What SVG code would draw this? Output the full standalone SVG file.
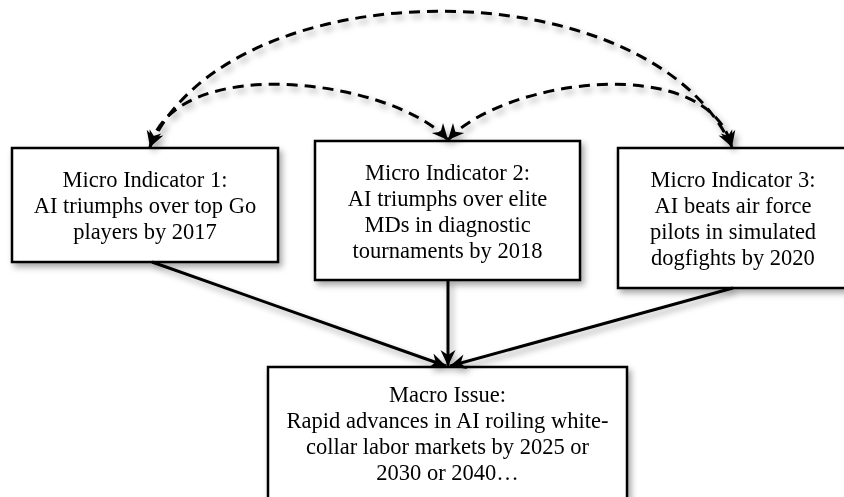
<svg xmlns="http://www.w3.org/2000/svg" width="844" height="497" viewBox="0 0 844 497">
  <defs>
    <filter id="sh" x="-10%" y="-10%" width="125%" height="130%">
      <feDropShadow dx="3" dy="4" stdDeviation="3" flood-color="#000" flood-opacity="0.35"/>
    </filter>
    <marker id="ah" viewBox="-18 -10 20 20" refX="0" refY="0" markerWidth="20" markerHeight="20" markerUnits="userSpaceOnUse" orient="auto-start-reverse">
      <path d="M0,0 L-16,-7.5 L-11,0 L-16,7.5 Z" fill="#000" stroke="none"/>
    </marker>
    <style>
      .box { fill: #fff; stroke: #000; stroke-width: 2.5; }
      .lbl { font-family: "Liberation Serif", "Times New Roman", serif; font-size: 22.5px; fill: #000; text-anchor: middle; }
      .dash { fill: none; stroke: #000; stroke-width: 3; stroke-dasharray: 11 7; marker-start: url(#ah); marker-end: url(#ah); }
      .solid { fill: none; stroke: #000; stroke-width: 3; marker-end: url(#ah); }
    </style>
  </defs>
  <rect width="844" height="497" fill="#fff"/>

  <g id="node-micro1" filter="url(#sh)">
    <rect class="box" x="12" y="148" width="266" height="114"/>
    <text class="lbl" x="145" y="187">Micro Indicator 1:</text>
    <text class="lbl" x="145" y="213">AI triumphs over top Go</text>
    <text class="lbl" x="145" y="239">players by 2017</text>
  </g>

  <g id="node-micro2" filter="url(#sh)">
    <rect class="box" x="315" y="141" width="265" height="139"/>
    <text class="lbl" x="447.5" y="180">Micro Indicator 2:</text>
    <text class="lbl" x="447.5" y="206">AI triumphs over elite</text>
    <text class="lbl" x="447.5" y="232">MDs in diagnostic</text>
    <text class="lbl" x="447.5" y="258">tournaments by 2018</text>
  </g>

  <g id="node-micro3" filter="url(#sh)">
    <rect class="box" x="618" y="148" width="232" height="140"/>
    <text class="lbl" x="733" y="187">Micro Indicator 3:</text>
    <text class="lbl" x="733" y="213">AI beats air force</text>
    <text class="lbl" x="733" y="239">pilots in simulated</text>
    <text class="lbl" x="733" y="265">dogfights by 2020</text>
  </g>

  <g id="node-macro" filter="url(#sh)">
    <rect class="box" x="268" y="367" width="359" height="145"/>
    <text class="lbl" x="447.5" y="402">Macro Issue:</text>
    <text class="lbl" x="447.5" y="428">Rapid advances in AI roiling white-</text>
    <text class="lbl" x="447.5" y="454">collar labor markets by 2025 or</text>
    <text class="lbl" x="447.5" y="480">2030 or 2040…</text>
  </g>

  <g id="connectors" filter="url(#sh)">
    <path class="dash" d="M150,147 C230,-34 650,-34 732,147"/>
    <path class="dash" d="M150,147 C175,50 395,80 448,140"/>
    <path class="dash" d="M448,140 C501,80 707,50 732,147"/>
    <path class="solid" d="M152,262 L446,366"/>
    <path class="solid" d="M448,280 L448,366"/>
    <path class="solid" d="M733,288 L450,366"/>
  </g>
</svg>
